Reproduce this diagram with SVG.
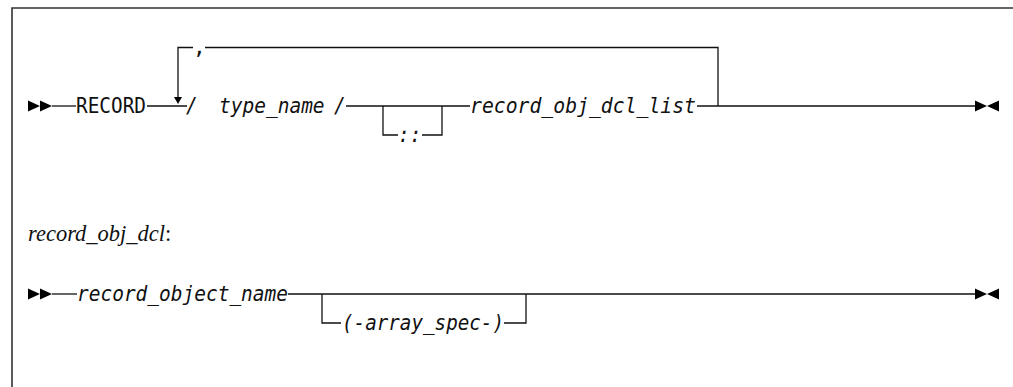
<svg xmlns="http://www.w3.org/2000/svg" width="1013" height="387" viewBox="0 0 1013 387">
<style>
.ln{fill:none;stroke:#111;stroke-width:1.3}
.mk{fill:#000}
.kw{font-family:"DejaVu Sans Mono","Liberation Mono",monospace;font-size:21px;fill:#111}
.var{font-family:"DejaVu Sans Mono","Liberation Mono",monospace;font-size:21px;font-style:italic;fill:#111}
.lbl{font-family:"Liberation Serif","DejaVu Serif",serif;font-size:22.5px;font-style:italic;fill:#111}
</style>
<rect width="1013" height="387" fill="#fff"/>
<g id="frame">
<path d="M12,387 V8 H1013" fill="none" stroke="#333" stroke-width="1.6"/>
</g>
<g id="connectors">
<path class="ln" d="M52,106 H76"/>
<path class="ln" d="M147,106 H187"/>
<path class="ln" d="M718,106 V47.5 H205"/>
<path class="ln" d="M193,47.5 H178 V100"/>
<polygon class="mk" points="174,97 182,97 178,104"/>
<path class="ln" d="M346,106 H470"/>
<path class="ln" d="M383,106 V135 H398"/>
<path class="ln" d="M422,135 H442 V106"/>
<path class="ln" d="M697,106 H976"/>
<path class="ln" d="M52,294 H77"/>
<path class="ln" d="M288,294 H976"/>
<path class="ln" d="M322,294 V323 H341"/>
<path class="ln" d="M504,323 H526 V294"/>
</g>
<g id="start1"><polygon class="mk" points="28,100.5 40,106 28,111.5"/><polygon class="mk" points="40,100.5 52,106 40,111.5"/></g>
<g id="end1"><polygon class="mk" points="975,100.5 987,106 975,111.5"/><polygon class="mk" points="999,100.5 987,106 999,111.5"/></g>
<g id="start2"><polygon class="mk" points="28,288.5 40,294 28,299.5"/><polygon class="mk" points="40,288.5 52,294 40,299.5"/></g>
<g id="end2"><polygon class="mk" points="975,288.5 987,294 975,299.5"/><polygon class="mk" points="999,288.5 987,294 999,299.5"/></g>
<g id="record"><text class="kw" x="76" y="113" textLength="70" lengthAdjust="spacingAndGlyphs">RECORD</text></g>
<g id="comma"><text class="kw" x="193" y="54">,</text></g>
<g id="type_name">
<text class="var" x="186" y="113" textLength="11.7" lengthAdjust="spacingAndGlyphs">/</text>
<text class="var" x="219" y="113" textLength="105.6" lengthAdjust="spacingAndGlyphs">type_name</text>
<text class="var" x="334" y="113" textLength="11.7" lengthAdjust="spacingAndGlyphs">/</text>
</g>
<g id="colons"><text class="var" x="398" y="142" textLength="23.4" lengthAdjust="spacingAndGlyphs">::</text></g>
<g id="record_obj_dcl_list"><text class="var" x="470" y="113" textLength="226" lengthAdjust="spacingAndGlyphs">record_obj_dcl_list</text></g>
<g id="label"><text class="lbl" x="28" y="241">record_obj_dcl<tspan font-style="normal">:</tspan></text></g>
<g id="record_object_name"><text class="var" x="77" y="301" textLength="211" lengthAdjust="spacingAndGlyphs">record_object_name</text></g>
<g id="array_spec"><text class="var" x="342" y="330" textLength="162" lengthAdjust="spacingAndGlyphs">(-array_spec-)</text></g>
</svg>
